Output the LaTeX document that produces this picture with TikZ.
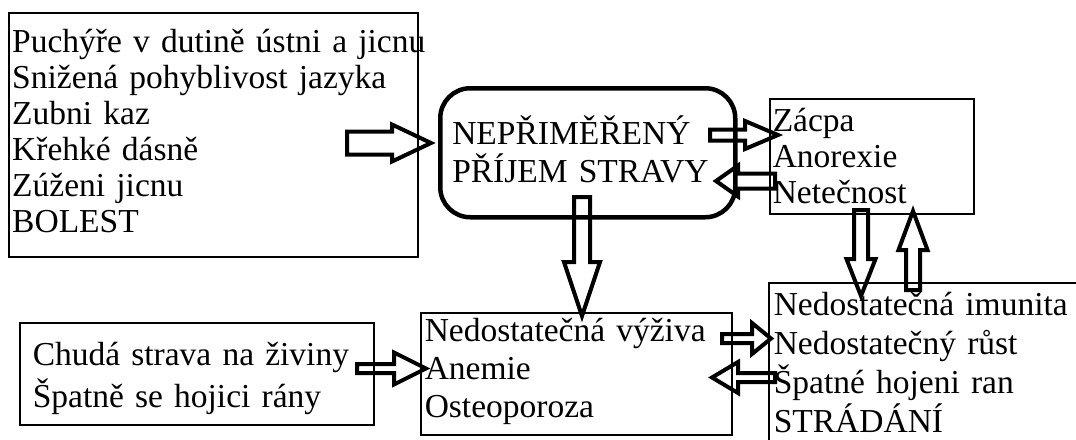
\documentclass[tikz,border=0pt]{standalone}
\usepackage{fontspec}
\setmainfont{Liberation Serif}
\usetikzlibrary{calc}

\tikzset{
	box/.style = {draw, line width=1.5pt, anchor=north west, inner ysep=0pt, align=left, font=\fontsize{33.5}{36}\selectfont},
	oval/.style = {box, line width=4.5pt, rounded corners=30pt},
	fatarrow/.style = {draw=black, line width=4pt, line join=miter},
}

% hollow block arrow: tail, tip, shaft half width, head half width, head length
\newcommand{\fatarrow}[5]{%
	\pgfpointdiff{\pgfpointanchor{#1}{center}}{\pgfpointanchor{#2}{center}}%
	\pgfgetlastxy{\fadx}{\fady}%
	\pgfmathsetmacro{\falen}{veclen(\fadx,\fady)}%
	\pgfmathsetmacro{\faang}{atan2(\fady,\fadx)}%
	\draw [fatarrow, shift={(#1)}, rotate=\faang] (0, -#3) -- ({\falen-#5}, -#3) -- ({\falen-#5}, -#4) -- (\falen, 0)
		-- ({\falen-#5}, #4) -- ({\falen-#5}, #3) -- (0, #3) -- cycle;
}

\begin{document}
\begin{tikzpicture}[x=1pt, y=-1pt]
	\useasboundingbox (0, 0) rectangle (1076, 439);
	% boxes (text height = first baseline below the top edge)
	\node [box, text width=402pt, inner xsep=3.5pt, minimum height=244pt, text height=40pt, text depth=204pt] (priciny) at (8, 12)
		{Puchýře~v~dutině~ústni~a~jicnu\\Snižená pohyblivost jazyka\\Zubni kaz\\Křehké dásně\\Zúženi jicnu\\BOLEST};
	\node [oval, text width=271pt, inner xsep=12pt, minimum height=129pt, text height=56pt, text depth=73pt, font=\fontsize{33.5}{38}\selectfont] (prijem) at (438, 86)
		{NEPŘIMĚŘENÝ\\PŘÍJEM~STRAVY};
	\node [box, text width=198pt, inner xsep=3pt, minimum height=115pt, text height=33pt, text depth=82pt] (projevy) at (769, 98)
		{Zácpa\\Anorexie\\Netečnost};
	\node [box, text width=328pt, inner xsep=13pt, minimum height=102pt, text height=43pt, text depth=59pt, font=\fontsize{33.5}{42}\selectfont] (strava) at (19, 322)
		{Chudá strava na živiny\\Špatně se hojici rány};
	\node [box, text width=303pt, inner xsep=4pt, minimum height=122pt, text height=29pt, text depth=93pt, font=\fontsize{33.5}{38}\selectfont] (vyziva) at (420, 312)
		{Nedostatečná výživa\\Anemie\\Osteoporoza};
	\node [box, text width=320pt, inner xsep=5pt, minimum height=168pt, text height=33pt, text depth=135pt, font=\fontsize{33.5}{39}\selectfont] (dusledky) at (768, 282)
		{Nedostatečná imunita\\Nedostatečný růst\\Špatné hojeni ran\\STRÁDÁNÍ};
	% arrow ends
	\coordinate (a1) at (347, 143);   \coordinate (b1) at (431, 143);
	\coordinate (a2) at (710, 135);   \coordinate (b2) at (778, 135);
	\coordinate (a3) at (775, 181);   \coordinate (b3) at (716, 181);
	\coordinate (a4) at (582, 197);   \coordinate (b4) at (582, 316);
	\coordinate (a5) at (861, 210);   \coordinate (b5) at (861, 296);
	\coordinate (a6) at (913, 290);   \coordinate (b6) at (913, 211);
	\coordinate (a7) at (357, 368.5); \coordinate (b7) at (426, 368.5);
	\coordinate (a8) at (722, 338.5); \coordinate (b8) at (771, 338.5);
	\coordinate (a9) at (775, 377.5); \coordinate (b9) at (712, 377.5);
	% arrows
	\fatarrow{a1}{b1}{11.5}{18.5}{39}
	\fatarrow{a2}{b2}{5.5}{14}{33}
	\fatarrow{a3}{b3}{7.5}{15.5}{22}
	\fatarrow{a4}{b4}{8}{18}{54}
	\fatarrow{a5}{b5}{7}{14.5}{37}
	\fatarrow{a6}{b6}{7}{14.5}{39}
	\fatarrow{a7}{b7}{4.5}{16}{32}
	\fatarrow{a8}{b8}{4.5}{15.5}{19}
	\fatarrow{a9}{b9}{4.5}{15.5}{26}
\end{tikzpicture}
\end{document}
